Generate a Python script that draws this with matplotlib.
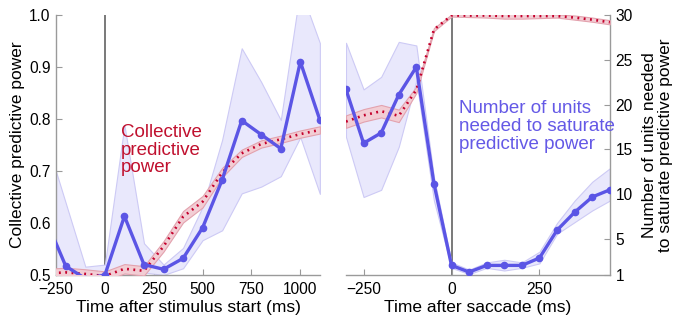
import numpy as np
import matplotlib
matplotlib.use("Agg")
from matplotlib import pyplot as plt

plt.rcParams['font.family'] = ['Liberation Sans', 'DejaVu Sans']

# ---- left panel: time after stimulus start (ms)
t_stim = [-300, -200, -100, 0, 100, 200, 300, 400, 500, 600, 700, 800, 900, 1000, 1100]
blue_stim = [0.605, 0.517, 0.493, 0.5, 0.613, 0.52, 0.511, 0.532, 0.591, 0.683, 0.797, 0.77, 0.743, 0.91, 0.798]
blue_stim_hi = [0.76, 0.638, 0.516, 0.52, 0.788, 0.561, 0.52, 0.552, 0.631, 0.76, 0.936, 0.871, 0.798, 1.05, 0.946]
blue_stim_lo = [0.49, 0.49, 0.49, 0.49, 0.50, 0.505, 0.50, 0.513, 0.567, 0.586, 0.657, 0.67, 0.69, 0.765, 0.656]
red_stim = [0.503, 0.505, 0.502, 0.498, 0.512, 0.508, 0.555, 0.612, 0.641, 0.697, 0.734, 0.752, 0.761, 0.771, 0.779]
red_stim_err = [0.009, 0.009, 0.009, 0.009, 0.009, 0.009, 0.01, 0.011, 0.011, 0.009, 0.007, 0.007, 0.007, 0.007, 0.007]

# ---- right panel: time after saccade (ms)
t_sacc = [-300, -250, -200, -150, -100, -50, 0, 50, 100, 150, 200, 250, 300, 350, 400, 450]
red_sacc = [0.795, 0.807, 0.815, 0.806, 0.856, 0.972, 0.999, 0.999, 0.999, 0.998, 0.998, 0.998, 0.998, 0.995, 0.991, 0.986]
red_sacc_err = [0.012, 0.012, 0.012, 0.012, 0.006, 0.003, 0.002, 0.003, 0.004, 0.005, 0.005, 0.004, 0.003, 0.004, 0.004, 0.004]
units_sacc = [21.7, 15.7, 16.85, 21.1, 24.2, 11.2, 2.07, 1.33, 2.07, 2.07, 2.07, 2.9, 6.0, 8.0, 9.7, 10.5]
units_sacc_hi = [26.9, 21.7, 23.1, 27.0, 26.6, 11.9, 2.4, 1.6, 2.4, 2.7, 2.4, 3.6, 6.8, 9.3, 11.4, 12.9]
units_sacc_lo = [16.4, 9.7, 10.5, 15.3, 22.7, 9.3, 1.8, 1.1, 1.8, 1.5, 1.8, 2.3, 5.6, 6.9, 8.2, 9.3]

BLUE = '#5b55e5'
RED = '#c4002c'
RED_TXT = '#c0102e'
GRAY = '#9a9a9a'


def style_axis(ax):
    for s in ax.spines.values():
        s.set_color(GRAY)
        s.set_linewidth(1.0)
    ax.tick_params(direction='in', length=4, color=GRAY, labelsize=11.2, pad=4)
    ax.tick_params(axis='x', pad=5)


def draw_red(ax, t, m, e, trans=None):
    # trans lets the red curve sit on the twin axes but keep the power scale
    kw = {} if trans is None else {'transform': trans}
    m = np.array(m)
    e = np.array(e)
    ax.fill_between(t, m - e, m + e, facecolor='#f2cdd4', edgecolor='#e3a2ae', lw=0.8, zorder=3, **kw)
    ax.plot(t, m, color=RED, lw=1.9, ls=(0, (0.7, 1.7)), zorder=4, **kw)


def draw_blue(ax, t, m, lo, hi):
    ax.fill_between(t, lo, hi, facecolor='#e9e8fc', edgecolor='#cdcaf5', lw=0.8, zorder=2)
    ax.plot(t, m, color=BLUE, lw=2.4, marker='o', ms=4.5, zorder=5)


fig = plt.figure(figsize=(6.8, 3.23), dpi=100)

# left panel
ax1 = fig.add_axes([0.0824, 0.1486, 0.388, 0.805])
draw_blue(ax1, t_stim, blue_stim, blue_stim_lo, blue_stim_hi)
draw_red(ax1, t_stim, red_stim, red_stim_err)
ax1.axvline(0, color='#6e6e6e', lw=1.3, zorder=1)
ax1.set_xlim(-250, 1100)
ax1.set_ylim(0.5, 1.0)
ax1.set_xticks([-250, 0, 250, 500, 750, 1000])
ax1.set_yticks([0.5, 0.6, 0.7, 0.8, 0.9, 1.0])
ax1.set_yticklabels(['0.5', '0.6', '0.7', '0.8', '0.9', '1.0'])
ax1.spines['top'].set_visible(False)
ax1.spines['right'].set_visible(False)
style_axis(ax1)
ax1.set_xlabel('Time after stimulus start (ms)', fontsize=12.5, labelpad=2)
ax1.set_ylabel('Collective predictive power', fontsize=12.5, labelpad=3)
ax1.text(80, 0.79, 'Collective\npredictive\npower', color=RED_TXT, fontsize=13.5,
         va='top', ha='left', linespacing=1.05, zorder=6)

# right panel
ax2 = fig.add_axes([0.5088, 0.1486, 0.388, 0.805])
ax2.axvline(0, color='#6e6e6e', lw=1.3, zorder=1)
ax2.set_xlim(-300, 450)
ax2.set_ylim(0.5, 1.0)
ax2.set_xticks([-250, 0, 250])
ax2.set_yticks([])
for s in ['top', 'left', 'right']:
    ax2.spines[s].set_visible(False)
style_axis(ax2)
ax2.set_xlabel('Time after saccade (ms)', fontsize=12.5, labelpad=2)

ax3 = ax2.twinx()
ax3.set_xlim(-300, 450)
ax3.set_ylim(1, 30)
draw_blue(ax3, t_sacc, units_sacc, units_sacc_lo, units_sacc_hi)
draw_red(ax3, t_sacc, red_sacc, red_sacc_err, trans=ax2.transData)
ax3.set_yticks([1, 5, 10, 15, 20, 25, 30])
for s in ['top', 'left', 'bottom']:
    ax3.spines[s].set_visible(False)
style_axis(ax3)
ax3.set_ylabel('Number of units needed\nto saturate predictive power', fontsize=12.5,
               labelpad=7, linespacing=1.05)
ax3.text(20, 0.836, 'Number of units\nneeded to saturate\npredictive power', color='#6459e6',
         fontsize=13.5, va='top', ha='left', linespacing=1.05, zorder=6, transform=ax2.transData)

fig.savefig('out.png', dpi=100)
